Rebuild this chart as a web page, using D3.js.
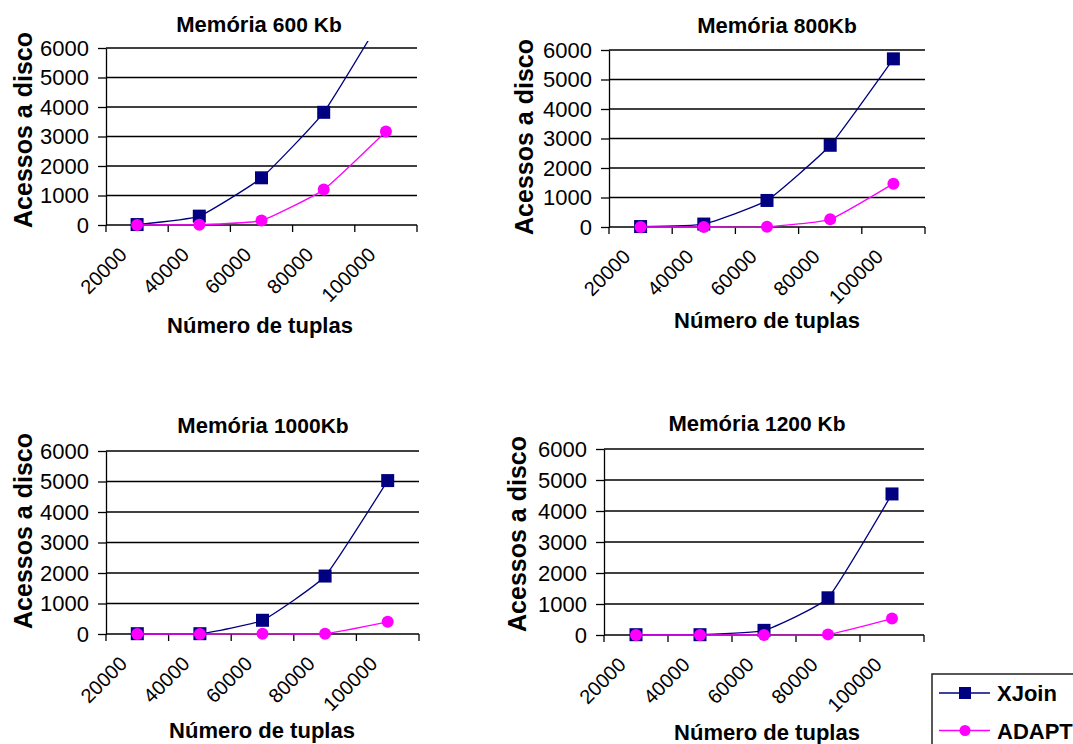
<!DOCTYPE html>
<html>
<head>
<meta charset="utf-8">
<script src="https://cdn.jsdelivr.net/npm/d3@7"></script>
<style>
  body { margin: 0; background: #fff; }
  svg { font-family: "Liberation Sans", Arial, sans-serif; }
  .c-axis line, .c-axis path { stroke: #000; }
</style>
</head>
<body>
<div id="charts"></div>
<script>
// categories on the x axis
const categories = ['20000', '40000', '60000', '80000', '100000'];
const yTicks = [0, 1000, 2000, 3000, 4000, 5000, 6000];
const memoryLabels = ['600 Kb', '800Kb', '1000Kb', '1200 Kb'];
const seriesNames = ['XJoin', 'ADAPT'];

// disk accesses
const xjoin600 = [15, 300, 1600, 3820, 7250];
const adapt600 = [0, 10, 150, 1200, 3170];
const xjoin800 = [15, 100, 900, 2770, 5700];
const adapt800 = [0, 0, 10, 260, 1470];
const xjoin1000 = [10, 10, 450, 1900, 5030];
const adapt1000 = [0, 0, 10, 10, 400];
const xjoin1200 = [10, 10, 150, 1200, 4550];
const adapt1200 = [0, 0, 0, 20, 530];

const seriesByPanel = [
  [xjoin600, adapt600],
  [xjoin800, adapt800],
  [xjoin1000, adapt1000],
  [xjoin1200, adapt1200]
];

// where each small chart sits on the page
const layouts = [
  {left: 106, right: 417, top: 48, bottom: 225, titleX: 259, titleY: 32, yLabelX: 32, yLabelY: 130, xTitleX: 260, xTitleY: 333},
  {left: 609, right: 925, top: 50, bottom: 227, titleX: 777, titleY: 33, yLabelX: 533, yLabelY: 137, xTitleX: 767, xTitleY: 328},
  {left: 106, right: 419, top: 451, bottom: 634, titleX: 263, titleY: 433, yLabelX: 32, yLabelY: 531, xTitleX: 262, xTitleY: 738},
  {left: 604, right: 924, top: 449, bottom: 635, titleX: 757, titleY: 431, yLabelX: 526, yLabelY: 534, xTitleX: 767, xTitleY: 740}
];

const colors = ['#000080', '#ff00ff'];

const svg = d3.select('#charts')
  .append('svg')
  .attr('width', 1073)
  .attr('height', 744);

function drawPanel (index) {
  const lay = layouts[index];
  const g = svg.append('g').attr('class', 'c-panel');

  const xScale = d3.scaleBand().domain(categories).range([lay.left, lay.right]).padding(0);
  const yScale = d3.scaleLinear().domain([0, 6000]).range([lay.bottom, lay.top]);
  const cx = (c) => xScale(c) + xScale.bandwidth() / 2;

  // horizontal gridlines
  g.append('g')
    .selectAll('line')
    .data(yTicks)
    .enter()
    .append('line')
    .attr('x1', lay.left)
    .attr('x2', lay.right)
    .attr('y1', (d) => yScale(d))
    .attr('y2', (d) => yScale(d))
    .attr('stroke', '#000')
    .attr('stroke-width', 1.3);

  // y axis
  g.append('g')
    .attr('class', 'c-axis')
    .attr('transform', 'translate(' + lay.left + ',0)')
    .call(d3.axisLeft(yScale).tickValues(yTicks).tickFormat(d3.format('d'))
      .tickSize(8).tickSizeOuter(0).tickPadding(9))
    .call((a) => a.selectAll('line, path').attr('stroke-width', 1.3))
    .call((a) => a.selectAll('text')
      .style('font-family', '"Liberation Sans", Arial, sans-serif')
      .style('font-size', '22px')
      .attr('fill', '#000'));

  // x ticks at category boundaries
  const bounds = categories.map((c) => xScale(c)).concat([lay.right]);
  g.append('g')
    .selectAll('line')
    .data(bounds)
    .enter()
    .append('line')
    .attr('x1', (d) => d)
    .attr('x2', (d) => d)
    .attr('y1', lay.bottom)
    .attr('y2', lay.bottom + 7)
    .attr('stroke', '#000')
    .attr('stroke-width', 1.3);

  // rotated x labels
  g.append('g')
    .selectAll('text')
    .data(categories)
    .enter()
    .append('text')
    .attr('transform', (d) => 'translate(' + (cx(d) - 9) + ',' + (lay.bottom + 31) + ') rotate(-45)')
    .attr('text-anchor', 'end')
    .attr('font-size', 20)
    .text((d) => d);

  // titles
  const title = g.append('text')
    .attr('x', lay.titleX)
    .attr('y', lay.titleY)
    .attr('text-anchor', 'middle')
    .attr('font-size', 22)
    .attr('font-weight', 'bold');
  title.append('tspan').text('Memória ');
  title.append('tspan')
    .attr('font-size', 21)
    .text(memoryLabels[index]);

  g.append('text')
    .attr('transform', 'translate(' + lay.yLabelX + ',' + lay.yLabelY + ') rotate(-90)')
    .attr('text-anchor', 'middle')
    .attr('font-size', 25)
    .attr('font-weight', 'bold')
    .text('Acessos a disco');

  g.append('text')
    .attr('x', lay.xTitleX)
    .attr('y', lay.xTitleY)
    .attr('text-anchor', 'middle')
    .attr('font-size', 22)
    .attr('font-weight', 'bold')
    .text('Número de tuplas');

  // clip so lines above 6000 get cut a bit above the top gridline
  const clipId = 'clip' + index;
  svg.append('clipPath')
    .attr('id', clipId)
    .append('rect')
    .attr('x', lay.left - 10)
    .attr('y', lay.top - 7)
    .attr('width', lay.right - lay.left + 20)
    .attr('height', lay.bottom - lay.top + 20);

  const plot = g.append('g').attr('clip-path', 'url(#' + clipId + ')');
  const line = d3.line()
    .x((d, i) => cx(categories[i]))
    .y((d) => yScale(d))
    .curve(d3.curveCardinal.tension(0.6));

  seriesByPanel[index].forEach((values, s) => {
    plot.append('path')
      .attr('d', line(values))
      .attr('fill', 'none')
      .attr('stroke', colors[s])
      .attr('stroke-width', 1.3);

    const marks = plot.append('g')
      .selectAll('.mark')
      .data(values)
      .enter();
    if (s === 0) {
      marks.append('rect')
        .attr('x', (d, i) => cx(categories[i]) - 6.5)
        .attr('y', (d) => yScale(d) - 6.5)
        .attr('width', 13)
        .attr('height', 13)
        .attr('fill', colors[s]);
    } else {
      marks.append('circle')
        .attr('cx', (d, i) => cx(categories[i]))
        .attr('cy', (d) => yScale(d))
        .attr('r', 6)
        .attr('fill', colors[s]);
    }
  });
}

function drawLegend () {
  const lg = svg.append('g').attr('class', 'c-legend');
  lg.append('rect')
    .attr('x', 932)
    .attr('y', 674)
    .attr('width', 200)
    .attr('height', 120)
    .attr('fill', '#fff')
    .attr('stroke', '#222')
    .attr('stroke-width', 1.5);

  seriesNames.forEach((name, s) => {
    const y = 693 + s * 37.5;
    lg.append('line')
      .attr('x1', 939)
      .attr('x2', 990)
      .attr('y1', y)
      .attr('y2', y)
      .attr('stroke', colors[s])
      .attr('stroke-width', 1.5);
    if (s === 0) {
      lg.append('rect')
        .attr('x', 959)
        .attr('y', y - 6)
        .attr('width', 12)
        .attr('height', 12)
        .attr('fill', colors[s]);
    } else {
      lg.append('circle')
        .attr('cx', 965)
        .attr('cy', y)
        .attr('r', 5.5)
        .attr('fill', colors[s]);
    }
    lg.append('text')
      .attr('x', 997)
      .attr('y', y + 8)
      .attr('font-size', 22)
      .attr('font-weight', 'bold')
      .text(name);
  });
}

layouts.forEach((lay, i) => drawPanel(i));
drawLegend();
</script>
</body>
</html>
